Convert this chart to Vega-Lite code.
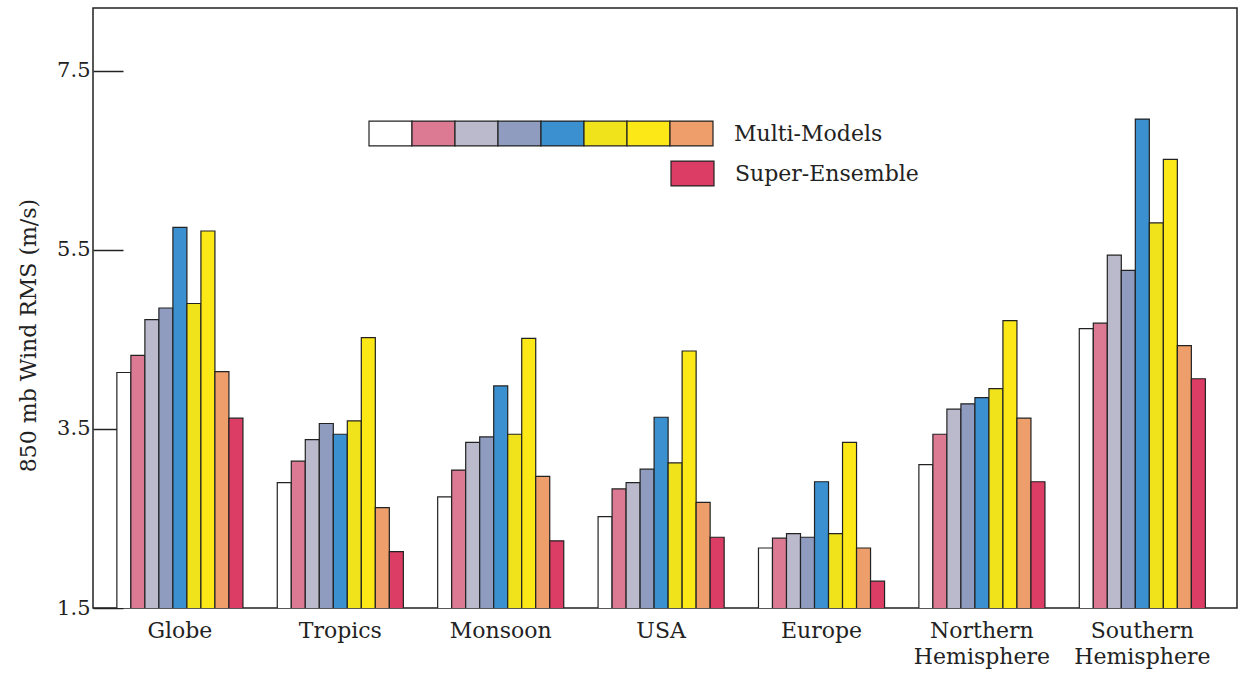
{
  "$schema": "https://vega.github.io/schema/vega-lite/v6.json",
  "autosize": {"type": "none"},
  "width": 1144,
  "height": 600,
  "padding": {"left": 93, "top": 8, "right": 21, "bottom": 65},
  "background": "#ffffff",
  "config": {
    "view": {"stroke": "#222222", "strokeWidth": 1.5},
    "font": "DejaVu Serif"
  },
  "data": {
    "values": [
      {"region": "Globe", "model": "Model 1", "rms": 4.13},
      {"region": "Globe", "model": "Model 2", "rms": 4.32},
      {"region": "Globe", "model": "Model 3", "rms": 4.72},
      {"region": "Globe", "model": "Model 4", "rms": 4.85},
      {"region": "Globe", "model": "Model 5", "rms": 5.75},
      {"region": "Globe", "model": "Model 6", "rms": 4.90},
      {"region": "Globe", "model": "Model 7", "rms": 5.71},
      {"region": "Globe", "model": "Model 8", "rms": 4.14},
      {"region": "Globe", "model": "Super-Ensemble", "rms": 3.62},
      {"region": "Tropics", "model": "Model 1", "rms": 2.90},
      {"region": "Tropics", "model": "Model 2", "rms": 3.14},
      {"region": "Tropics", "model": "Model 3", "rms": 3.38},
      {"region": "Tropics", "model": "Model 4", "rms": 3.56},
      {"region": "Tropics", "model": "Model 5", "rms": 3.44},
      {"region": "Tropics", "model": "Model 6", "rms": 3.59},
      {"region": "Tropics", "model": "Model 7", "rms": 4.52},
      {"region": "Tropics", "model": "Model 8", "rms": 2.62},
      {"region": "Tropics", "model": "Super-Ensemble", "rms": 2.13},
      {"region": "Monsoon", "model": "Model 1", "rms": 2.74},
      {"region": "Monsoon", "model": "Model 2", "rms": 3.04},
      {"region": "Monsoon", "model": "Model 3", "rms": 3.35},
      {"region": "Monsoon", "model": "Model 4", "rms": 3.41},
      {"region": "Monsoon", "model": "Model 5", "rms": 3.98},
      {"region": "Monsoon", "model": "Model 6", "rms": 3.44},
      {"region": "Monsoon", "model": "Model 7", "rms": 4.51},
      {"region": "Monsoon", "model": "Model 8", "rms": 2.97},
      {"region": "Monsoon", "model": "Super-Ensemble", "rms": 2.25},
      {"region": "USA", "model": "Model 1", "rms": 2.52},
      {"region": "USA", "model": "Model 2", "rms": 2.83},
      {"region": "USA", "model": "Model 3", "rms": 2.90},
      {"region": "USA", "model": "Model 4", "rms": 3.05},
      {"region": "USA", "model": "Model 5", "rms": 3.63},
      {"region": "USA", "model": "Model 6", "rms": 3.12},
      {"region": "USA", "model": "Model 7", "rms": 4.37},
      {"region": "USA", "model": "Model 8", "rms": 2.68},
      {"region": "USA", "model": "Super-Ensemble", "rms": 2.29},
      {"region": "Europe", "model": "Model 1", "rms": 2.17},
      {"region": "Europe", "model": "Model 2", "rms": 2.28},
      {"region": "Europe", "model": "Model 3", "rms": 2.33},
      {"region": "Europe", "model": "Model 4", "rms": 2.29},
      {"region": "Europe", "model": "Model 5", "rms": 2.91},
      {"region": "Europe", "model": "Model 6", "rms": 2.33},
      {"region": "Europe", "model": "Model 7", "rms": 3.35},
      {"region": "Europe", "model": "Model 8", "rms": 2.17},
      {"region": "Europe", "model": "Super-Ensemble", "rms": 1.80},
      {"region": "Northern Hemisphere", "model": "Model 1", "rms": 3.10},
      {"region": "Northern Hemisphere", "model": "Model 2", "rms": 3.44},
      {"region": "Northern Hemisphere", "model": "Model 3", "rms": 3.72},
      {"region": "Northern Hemisphere", "model": "Model 4", "rms": 3.78},
      {"region": "Northern Hemisphere", "model": "Model 5", "rms": 3.85},
      {"region": "Northern Hemisphere", "model": "Model 6", "rms": 3.95},
      {"region": "Northern Hemisphere", "model": "Model 7", "rms": 4.71},
      {"region": "Northern Hemisphere", "model": "Model 8", "rms": 3.62},
      {"region": "Northern Hemisphere", "model": "Super-Ensemble", "rms": 2.91},
      {"region": "Southern Hemisphere", "model": "Model 1", "rms": 4.62},
      {"region": "Southern Hemisphere", "model": "Model 2", "rms": 4.68},
      {"region": "Southern Hemisphere", "model": "Model 3", "rms": 5.44},
      {"region": "Southern Hemisphere", "model": "Model 4", "rms": 5.27},
      {"region": "Southern Hemisphere", "model": "Model 5", "rms": 6.96},
      {"region": "Southern Hemisphere", "model": "Model 6", "rms": 5.80},
      {"region": "Southern Hemisphere", "model": "Model 7", "rms": 6.51},
      {"region": "Southern Hemisphere", "model": "Model 8", "rms": 4.43},
      {"region": "Southern Hemisphere", "model": "Super-Ensemble", "rms": 4.06}
    ]
  },
  "encoding": {
    "x": {
      "field": "region",
      "type": "nominal",
      "sort": ["Globe", "Tropics", "Monsoon", "USA", "Europe", "Northern Hemisphere", "Southern Hemisphere"],
      "scale": {"paddingInner": 0.214, "paddingOuter": 0.173, "align": 0.43},
      "axis": {
        "title": null,
        "labelAngle": 0,
        "ticks": false,
        "domain": false,
        "labelFont": "DejaVu Serif",
        "labelFontSize": 22,
        "labelColor": "#222222",
        "labelPadding": 12,
        "labelLineHeight": 26,
        "labelExpr": "split(datum.label, ' ')"
      }
    },
    "xOffset": {
      "field": "model",
      "type": "nominal",
      "scale": {
        "domain": ["Model 1", "Model 2", "Model 3", "Model 4", "Model 5", "Model 6", "Model 7", "Model 8", "Super-Ensemble"],
        "paddingInner": 0,
        "paddingOuter": 0
      }
    },
    "y": {
      "field": "rms",
      "type": "quantitative",
      "scale": {"domain": [1.5, 8.2], "zero": false, "nice": false},
      "axis": {
        "title": "850 mb Wind RMS (m/s)",
        "values": [1.5, 3.5, 5.5, 7.5],
        "format": ".1f",
        "grid": false,
        "domain": false,
        "tickSize": -30,
        "tickColor": "#222222",
        "tickWidth": 1.5,
        "labelPadding": 33,
        "labelFont": "DejaVu Serif",
        "labelFontSize": 21,
        "labelColor": "#222222",
        "titleFont": "DejaVu Serif",
        "titleFontSize": 22,
        "titleFontWeight": "normal",
        "titleColor": "#222222",
        "titlePadding": 16,
        "titleY": 327
      }
    }
  },
  "layer": [
    {
      "transform": [{"filter": "datum.model !== 'Super-Ensemble'"}],
      "mark": {"type": "bar", "stroke": "#222222", "strokeWidth": 1.2, "clip": true},
      "encoding": {
        "fill": {
          "field": "model",
          "type": "nominal",
          "scale": {
            "domain": ["Model 1", "Model 2", "Model 3", "Model 4", "Model 5", "Model 6", "Model 7", "Model 8"],
            "range": ["#ffffff", "#dc7a94", "#bbbacd", "#8f9cc0", "#3b90d0", "#f0e31c", "#fbe816", "#ee9e6b"]
          },
          "legend": {
            "title": null,
            "orient": "none",
            "legendX": 275,
            "legendY": 103,
            "direction": "horizontal",
            "columns": 8,
            "columnPadding": -6,
            "gridAlign": "none",
            "padding": 0,
            "symbolType": "M-1,-0.58H1V0.58H-1Z",
            "symbolSize": 1849,
            "symbolStrokeColor": "#222222",
            "symbolStrokeWidth": 1.2,
            "symbolOpacity": 1,
            "labelOffset": 0,
            "labelFont": "DejaVu Serif",
            "labelFontSize": 22,
            "labelColor": "#222222",
            "labelLimit": 400,
            "labelExpr": "datum.value === 'Model 8' ? 'Multi-Models' : ''",
            "encode": {
              "labels": {
                "update": {
                  "dx": {"signal": "datum.value === 'Model 8' ? 20 : 0"},
                  "fontSize": {"signal": "datum.value === 'Model 8' ? 22 : 0"}
                }
              }
            }
          }
        }
      }
    },
    {
      "transform": [{"filter": "datum.model === 'Super-Ensemble'"}],
      "mark": {"type": "bar", "stroke": "#222222", "strokeWidth": 1.2, "clip": true},
      "encoding": {
        "fill": {
          "field": "model",
          "type": "nominal",
          "scale": {"domain": ["Super-Ensemble"], "range": ["#dc3d64"]},
          "legend": {
            "title": null,
            "orient": "none",
            "legendX": 577,
            "legendY": 143,
            "padding": 0,
            "symbolType": "M-1,-0.58H1V0.58H-1Z",
            "symbolSize": 1849,
            "symbolStrokeColor": "#222222",
            "symbolStrokeWidth": 1.2,
            "symbolOpacity": 1,
            "labelOffset": 20,
            "labelFont": "DejaVu Serif",
            "labelFontSize": 22,
            "labelColor": "#222222",
            "labelLimit": 400
          }
        }
      }
    }
  ],
  "resolve": {"scale": {"fill": "independent"}}
}
